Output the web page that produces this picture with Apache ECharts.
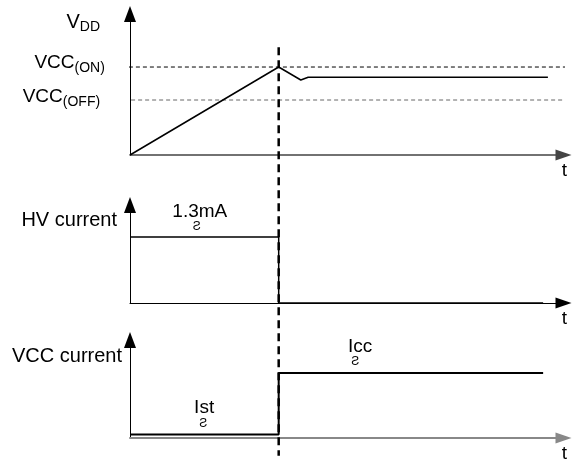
<!DOCTYPE html>
<html>
<head>
<meta charset="utf-8">
<script src="https://cdn.jsdelivr.net/npm/echarts/dist/echarts.min.js"></script>
<style>
  html, body { margin: 0; background: #fff; }
  #chart { width: 572px; height: 469px; }
</style>
</head>
<body>
<div id="chart"></div>
<script>
// time runs 0..100 on every panel, amplitude 0..10 (arbitrary units)
var tMax = 100;
var yMax = 10;
var tSwitch = 34.3;               // the moment VDD reaches VCC(ON)

// panel 1 : VDD
var vddT = [0, 34.3, 39.4, 41.1, 96.4];
var vddV = [0, 6.24, 5.32, 5.51, 5.51];
var vccOn = 6.24;
var vccOff = 3.9;
var levelT = [-5.1, 102];         // reference lines run a bit past the axes
var offT = [-6.2, 102];

// panel 2 : HV current
var hvT = [0, 34.3, 34.3, 95.3];
var hvI = [6.73, 6.73, 0, 0];

// panel 3 : VCC current
var vccT = [0, 34.3, 34.3, 95.3];
var vccI = [0.35, 0.35, 6.63, 6.63];

// vertical marker, in panel-1 units (goes down through all panels)
var markerV = [7.65, -21.33];

var FONT = 'Liberation Sans, Arial, sans-serif';
var SQUIGGLE = 'Ƨ';

function zip(xs, ys) {
    return xs.map(function (x, i) { return [x, ys[i]]; });
}

function tAxis(i, color, width) {
    return {
        type: 'value', gridIndex: i, min: 0, max: tMax,
        name: 't', nameLocation: 'end', nameGap: 1, nameMoveOverlap: false,
        nameTextStyle: { fontFamily: FONT, fontSize: 19, color: '#000', align: 'center', verticalAlign: 'top', padding: [6, 0, 0, 0] },
        axisLine: { onZero: false, symbol: ['none', 'triangle'], symbolSize: [11, 16], lineStyle: { color: color, width: width } },
        axisTick: { show: false }, axisLabel: { show: false }, splitLine: { show: false }
    };
}

function yAxis(i, name, gap, padRight) {
    return {
        type: 'value', gridIndex: i, min: 0, max: yMax,
        name: name, nameLocation: 'end', nameGap: gap, nameMoveOverlap: false,
        nameTextStyle: {
            fontFamily: FONT, fontSize: 20, color: '#000', align: 'right', verticalAlign: 'middle',
            padding: [0, padRight, 0, 0],
            rich: {
                m: { fontFamily: FONT, fontSize: 20, color: '#000' },
                s: { fontFamily: FONT, fontSize: 14, color: '#000', padding: [10, 0, 0, 0] }
            }
        },
        axisLine: { onZero: false, symbol: ['none', 'triangle'], symbolSize: [12, 16], lineStyle: { color: '#000', width: 1 } },
        axisTick: { show: false }, axisLabel: { show: false }, splitLine: { show: false }
    };
}

function trace(i, data, width) {
    return {
        type: 'line', xAxisIndex: i, yAxisIndex: i, data: data, showSymbol: false, clip: false,
        lineStyle: { color: '#000', width: width }, z: 3
    };
}

function note(coord, text, size, offset) {
    return {
        coord: coord, symbol: 'circle', symbolSize: 0, value: text,
        label: { show: true, position: 'inside', offset: offset, formatter: text,
                 fontFamily: FONT, fontSize: size, color: '#000' }
    };
}

function levelLine(ts, v, color, name, subPad, offset) {
    return {
        type: 'line', xAxisIndex: 0, yAxisIndex: 0, clip: false, showSymbol: true, symbolSize: 0,
        lineStyle: { color: color, width: 1, type: [4, 3] }, z: 2,
        data: [
            { value: [ts[0], v], label: {
                show: true, position: 'left', distance: 3, offset: offset,
                formatter: '{m|VCC}{s|(' + name + ')}',
                rich: {
                    m: { fontFamily: FONT, fontSize: 19, color: '#000' },
                    s: { fontFamily: FONT, fontSize: 14, color: '#000', padding: subPad }
                }
            } },
            [ts[1], v]
        ]
    };
}

var chart = echarts.init(document.getElementById('chart'));

chart.setOption({
    animation: false,
    backgroundColor: '#fff',
    grid: [
        { left: 130, right: 8.5, top: 14, height: 141, outerBoundsMode: 'none' },
        { left: 130, right: 8.5, top: 205, height: 98, outerBoundsMode: 'none' },
        { left: 130, right: 8.5, top: 340, height: 98, outerBoundsMode: 'none' }
    ],
    xAxis: [tAxis(0, '#444', 1.5), tAxis(1, '#000', 1), tAxis(2, '#888', 2)],
    yAxis: [
        yAxis(0, '{m|V}{s|DD}', -8.5, 30),
        yAxis(1, 'HV current', -15, 13),
        yAxis(2, 'VCC current', -16, 8)
    ],
    series: [
        levelLine(levelT, vccOn, '#000', 'ON', [10, 0, 0, 0], [0, -4]),
        levelLine(offT, vccOff, '#666', 'OFF', [10, 0, 0, 0], [0, -3]),
        trace(0, zip(vddT, vddV), 1.5),
        Object.assign(trace(1, zip(hvT, hvI), 1.5), {
            markPoint: { data: [
                note([16.1, hvI[0]], '1.3mA', 19, [0, -25]),
                note([16.1, hvI[0]], SQUIGGLE, 12, [-3, -10])
            ] }
        }),
        Object.assign(trace(2, zip(vccT, vccI), 2), {
            markPoint: { data: [
                note([17.1, vccI[0]], 'Ist', 19, [0, -27]),
                note([17.1, vccI[0]], SQUIGGLE, 12, [-1, -11]),
                note([53.1, vccI[3]], 'Icc', 19, [0, -26]),
                note([53.1, vccI[3]], SQUIGGLE, 12, [-5, -11])
            ] }
        }),
        {
            type: 'line', xAxisIndex: 0, yAxisIndex: 0, clip: false, showSymbol: false, z: 5,
            data: [[tSwitch, markerV[0]], [tSwitch, markerV[1]]],
            lineStyle: { color: '#000', width: 2.5, type: [8, 5] }
        }
    ]
});
</script>
</body>
</html>
